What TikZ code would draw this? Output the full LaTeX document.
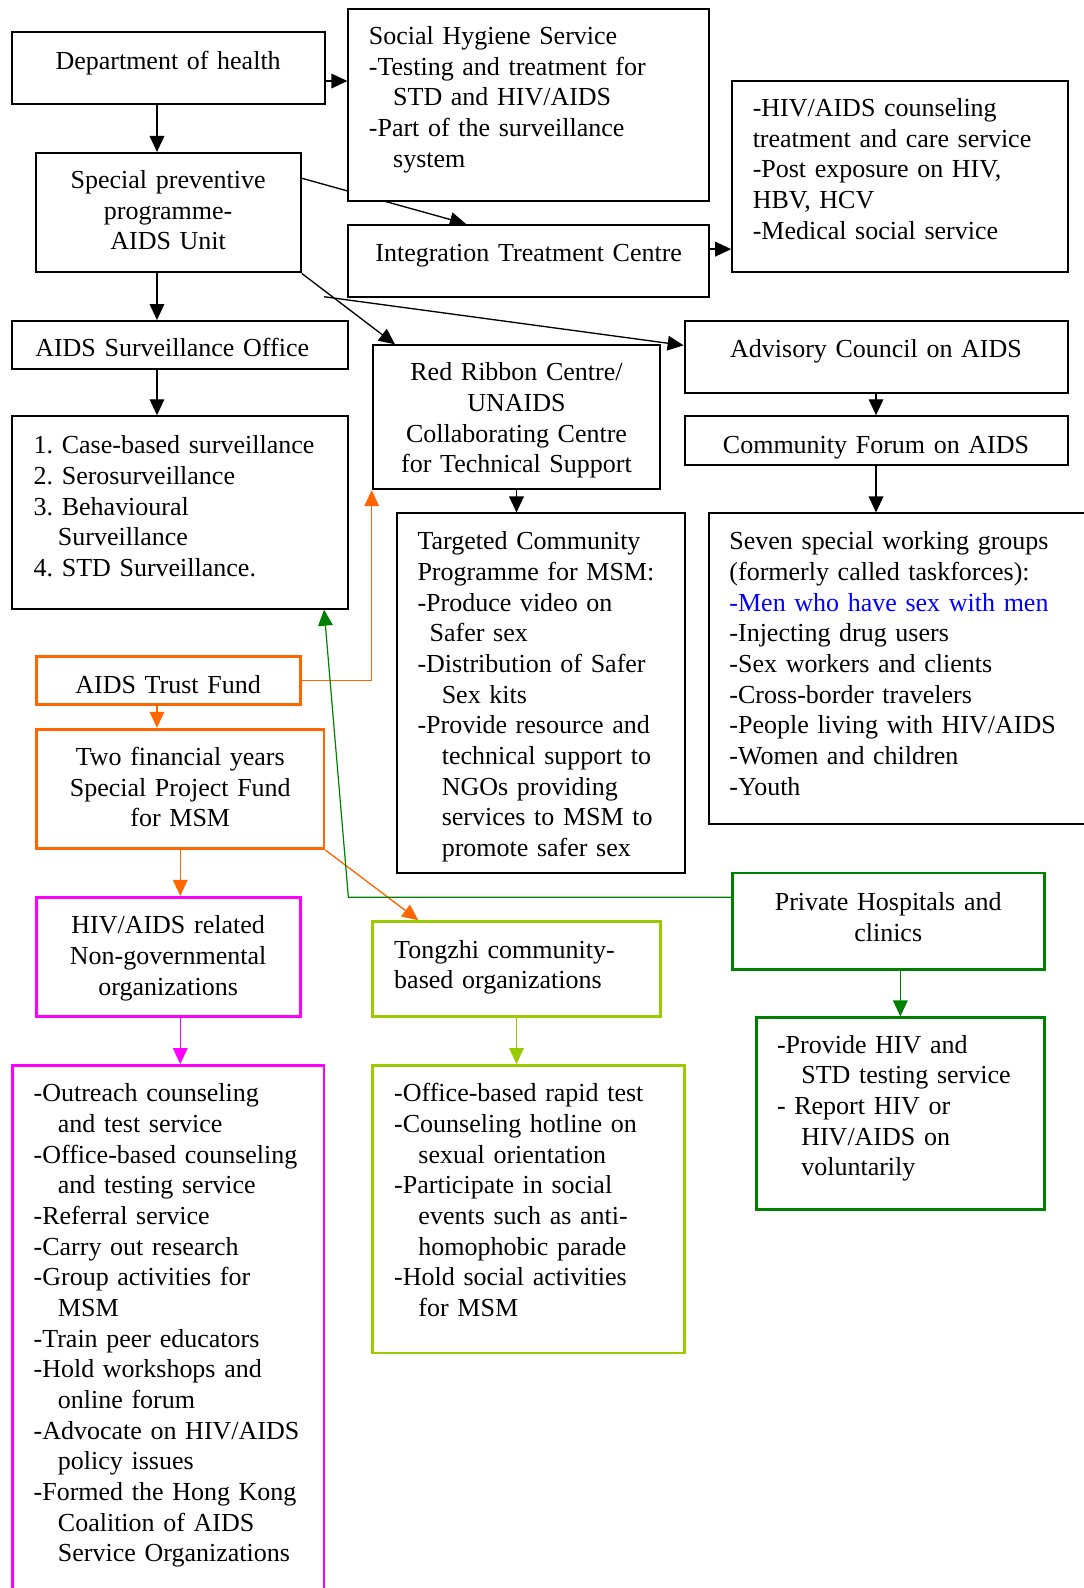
\documentclass[tikz,border=0pt]{standalone}
\usepackage{fontspec}
\setmainfont{Liberation Serif}
\usetikzlibrary{fit,arrows.meta}
\pgfdeclarelayer{bg}
\pgfsetlayers{bg,main}
\definecolor{corange}{RGB}{255,102,0}
\definecolor{cmag}{RGB}{255,0,255}
\definecolor{cyg}{RGB}{153,204,0}
\definecolor{cgreen}{RGB}{0,128,0}
\definecolor{cblue}{RGB}{0,0,255}
\newcommand\myind{\hspace*{18.2pt}}
\newcommand\myhalf{\hspace*{9.1pt}}
\tikzset{
  box/.style={draw, line width=1.5pt, fill=white, inner sep=0pt},
  obox/.style={box, draw=corange, line width=2.1pt},
  mbox/.style={box, draw=cmag, line width=2.1pt},
  ybox/.style={box, draw=cyg, line width=2.1pt},
  gbox/.style={box, draw=cgreen, line width=2.1pt},
  txt/.style={font=\fontsize{19.5}{23}\selectfont, inner sep=0pt, text width=330pt, align=left, anchor=base west},
  ctxt/.style={font=\fontsize{19.5}{23}\selectfont, inner sep=0pt, text width=300pt, align=center, anchor=base},
  arr/.style={line width=1pt, -{Triangle[length=12pt,width=11pt]}},
}
\begin{document}
\begin{tikzpicture}[x=0.7598pt, y=-0.7598pt]
\useasboundingbox (0,0) rectangle (1070,1568);
% boxes
\node[box, fit={(12,32)(321,103)}] (dept) {};
\node[box, fit={(344,9)(700,198)}] (shs) {};
\node[box, fit={(36,151)(297,269)}] (spp) {};
\node[box, fit={(344,222)(700,293)}] (itc) {};
\node[box, fit={(723,80)(1055,269)}] (hiv) {};
\node[box, fit={(12,317)(344,364)}] (aso) {};
\node[box, fit={(368,341)(652,483)}] (rrc) {};
\node[box, fit={(676,317)(1055,388)}] (acs) {};
\node[box, fit={(676,411)(1055,459)}] (cfa) {};
\node[box, fit={(12,411)(344,601)}] (surv) {};
\node[obox, fit={(36,648)(297,696)}] (atf) {};
\node[obox, fit={(36,720)(320,838)}] (tfy) {};
\node[box, fit={(392,507)(676,862)}] (tcp) {};
\node[box, fit={(700,507)(1085,814)}] (swg) {};
\node[mbox, fit={(36,886)(297,1004)}] (ngo) {};
\node[ybox, fit={(368,910)(652,1004)}] (tong) {};
\node[gbox, fit={(723,862)(1031,957)}] (phc) {};
\node[gbox, fit={(747,1005)(1031,1194)}] (glist) {};
\node[mbox, fit={(12,1052)(320,1600)}] (mlist) {};
\node[ybox, fit={(368,1052)(676,1336)}] (ylist) {};
% texts
\node[ctxt] (tdept) at (166,69) {Department of health};
\node[txt] (tshs) at (364,44) {Social Hygiene Service\\-Testing and treatment for\\\myind STD and HIV/AIDS\\-Part of the surveillance\\\myind system};
\node[ctxt] (tspp) at (166,186) {Special preventive\\programme-\\AIDS Unit};
\node[ctxt] (titc) at (522,258) {Integration Treatment Centre};
\node[txt] (thiv) at (743,115) {-HIV/AIDS counseling\\treatment and care service\\-Post exposure on HIV,\\HBV, HCV\\-Medical social service};
\node[ctxt] (taso) at (170,352) {AIDS Surveillance Office};
\node[ctxt] (trrc) at (510,376) {Red Ribbon Centre/\\UNAIDS\\Collaborating Centre\\for Technical Support};
\node[ctxt] (tacs) at (865,353) {Advisory Council on AIDS};
\node[ctxt] (tcfa) at (865,448) {Community Forum on AIDS};
\node[txt] (tsurv) at (33,448) {1.\ Case-based surveillance\\2.\ Serosurveillance\\3.\ Behavioural\\\myind Surveillance\\4.\ STD Surveillance.};
\node[ctxt] (tatf) at (166,685) {AIDS Trust Fund};
\node[ctxt] (ttfy) at (178,756) {Two financial years\\Special Project Fund\\for MSM};
\node[txt] (ttcp) at (412,543) {Targeted Community\\Programme for MSM:\\-Produce video on\\\myhalf Safer sex\\-Distribution of Safer\\\myind Sex kits\\-Provide resource and\\\myind technical support to\\\myind NGOs providing\\\myind services to MSM to\\\myind promote safer sex};
\node[txt] (tswg) at (720,543) {Seven special working groups\\(formerly called taskforces):\\\textcolor{cblue}{-Men who have sex with men}\\-Injecting drug users\\-Sex workers and clients\\-Cross-border travelers\\-People living with HIV/AIDS\\-Women and children\\-Youth};
\node[ctxt] (tngo) at (166,922) {HIV/AIDS related\\Non-governmental\\organizations};
\node[txt] (ttong) at (389,946) {Tongzhi community-\\based organizations};
\node[ctxt] (tphc) at (877,899) {Private Hospitals and\\clinics};
\node[txt] (tglist) at (767,1040) {-Provide HIV and\\\myind STD testing service\\- Report HIV or\\\myind HIV/AIDS on\\\myind voluntarily};
\node[txt] (tmlist) at (33,1088) {-Outreach counseling\\\myind and test service\\-Office-based counseling\\\myind and testing service\\-Referral service\\-Carry out research\\-Group activities for\\\myind MSM\\-Train peer educators\\-Hold workshops and\\\myind online forum\\-Advocate on HIV/AIDS\\\myind policy issues\\-Formed the Hong Kong\\\myind Coalition of AIDS\\\myind Service Organizations};
\node[txt] (tylist) at (389,1088) {-Office-based rapid test\\-Counseling hotline on\\\myind sexual orientation\\-Participate in social\\\myind events such as anti-\\\myind homophobic parade\\-Hold social activities\\\myind for MSM};
% free connector ends
\coordinate (c1) at (320,293);
\coordinate (g1) at (344,886);
\begin{pgfonlayer}{bg}
\draw[arr] (dept.east |- 0,80) -- (shs.west |- 0,80);
\draw[arr] (155,0 |- dept.south) -- (155,0 |- spp.north);
\draw[arr] (spp.east |- 0,176) -- (460,0 |- itc.north);
\draw[arr] (155,0 |- spp.south) -- (155,0 |- aso.north);
\draw[arr] (spp.south east) -- (390,0 |- rrc.north);
\draw[arr] (c1) -- (acs.west |- 0,341);
\draw[arr] (itc.east |- 0,246) -- (hiv.west |- 0,246);
\draw[arr] (155,0 |- aso.south) -- (155,0 |- surv.north);
\draw[arr] (510,0 |- rrc.south) -- (510,0 |- tcp.north);
\draw[arr] (865,0 |- acs.south) -- (865,0 |- cfa.north);
\draw[arr] (865,0 |- cfa.south) -- (865,0 |- swg.north);
\draw[arr, draw=corange] (atf.east |- 0,672) -| (rrc.south west);
\draw[arr, draw=corange] (155,0 |- atf.south) -- (155,0 |- tfy.north);
\draw[arr, draw=corange] (tfy.south east) -- (413,0 |- tong.north);
\draw[arr, draw=corange] (178,0 |- tfy.south) -- (178,0 |- ngo.north);
\draw[arr, draw=cgreen, line width=0.9pt] (phc.west |- g1) -- (g1) -- (320,0 |- surv.south);
\draw[arr, draw=cgreen] (889,0 |- phc.south) -- (889,0 |- glist.north);
\draw[arr, draw=cmag] (178,0 |- ngo.south) -- (178,0 |- mlist.north);
\draw[arr, draw=cyg] (510,0 |- tong.south) -- (510,0 |- ylist.north);
\end{pgfonlayer}
\end{tikzpicture}
\end{document}
